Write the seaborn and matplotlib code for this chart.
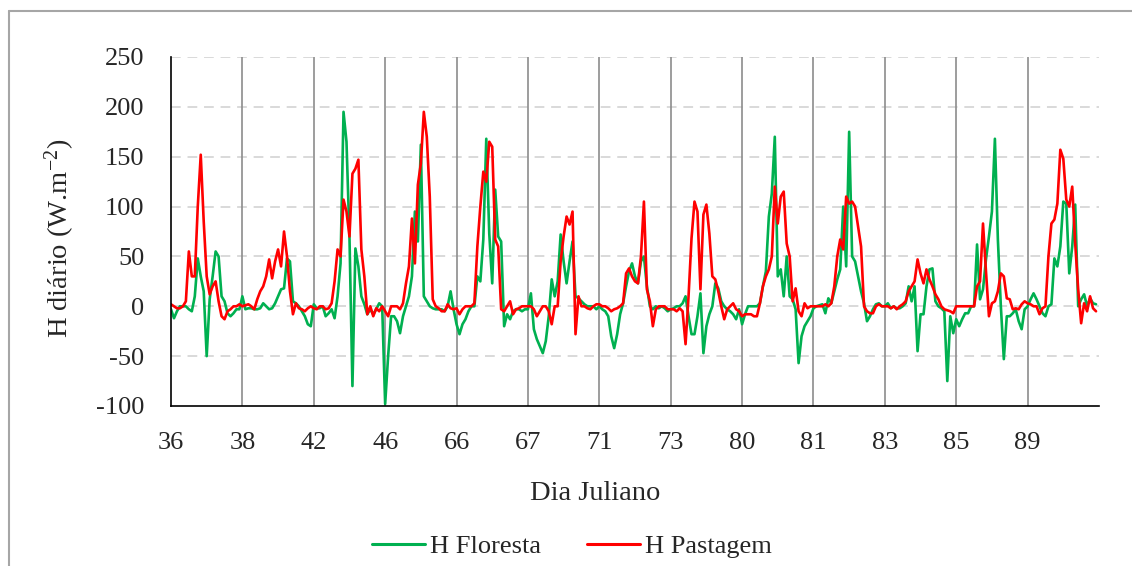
import pandas as pd
import matplotlib
matplotlib.use("Agg")
import matplotlib.pyplot as plt
from matplotlib.lines import Line2D
import seaborn as sns

# dias julianos (um rótulo por dia, 24 valores horários por dia)
dias = [36, 38, 42, 46, 66, 67, 71, 73, 80, 81, 83, 85, 89]

# H Floresta (W.m-2), valores horários
h_floresta = [
    -3, -12, -5, 0, 0, 0, -3, -5, 10, 48, 30, 15, -50, 7, 30, 55, 50, 10, 5, -7, -10, -7, -3, -3,       # 36
    10, -3, -2, -2, -3, -3, -2, 3, 0, -3, -2, 3, 10, 17, 18, 48, 45, 5, 3, 0, -5, -10, -18, -20,        # 38
    2, -2, -2, 0, -10, -7, -3, -12, 10, 43, 195, 165, 70, -80, 58, 40, 10, 2, -8, -3, -8, -3, 3, 0,     # 42
    -98, -50, -10, -10, -15, -27, -10, 0, 10, 30, 95, 65, 162, 10, 5, 0, -2, -3, -3, -3, -5, 0, 15, -3,  # 46
    -18, -28, -18, -13, -5, 0, 0, 30, 25, 67, 168, 73, 23, 117, 70, 65, -20, -8, -13, -5, -3, -3, -5, -3,  # 66
    -3, 13, -23, -33, -40, -47, -35, -10, 27, 10, 25, 72, 45, 23, 45, 65, 10, 8, 5, 2, 0, 0, 0, -3,     # 67
    0, -3, -5, -10, -30, -42, -28, -8, 3, 20, 35, 43, 30, 23, 45, 50, 20, 0, -3, 0, -2, 0, -2, -5,      # 71
    -3, -2, 0, 0, 3, 10, -10, -28, -28, -10, 13, -47, -20, -8, 0, 23, 18, 5, 0, -3, -5, -8, -13, -3,    # 73
    -18, -8, 0, 0, 0, 0, 3, 20, 35, 90, 113, 170, 30, 37, 10, 50, 10, 7, -3, -57, -30, -20, -15, -10,   # 80
    -2, 0, 1, 2, -7, 8, 3, 15, 27, 37, 100, 40, 175, 50, 45, 30, 15, 3, -15, -10, -3, 2, 3, 0,          # 81
    0, 3, -2, 0, -2, -2, 0, 3, 20, 5, 20, -45, -8, -8, 20, 37, 38, 5, 0, -2, -5, -75, -10, -27,         # 83
    -13, -20, -13, -7, -7, 0, 0, 62, 7, 17, 47, 70, 95, 168, 67, 0, -53, -10, -10, -7, -3, -15, -23, -3, # 85
    0, 7, 13, 7, 0, -7, -10, 0, 2, 48, 40, 60, 105, 103, 33, 60, 102, 0, 7, 12, 0, 8, 3, 2,             # 89
]

# H Pastagem (W.m-2)
h_pastagem = [
    2, 0, -2, -2, 0, 5, 55, 30, 30, 100, 152, 85, 30, 12, 20, 25, 5, -10, -13, -5, -3, 0, 0, 2,         # 36
    0, 1, 2, 0, -3, 7, 15, 20, 30, 47, 28, 45, 57, 40, 75, 50, 15, -8, 3, -2, -3, -5, -2, 0,            # 38
    -2, -3, 0, 0, -3, -2, 3, 25, 57, 50, 107, 95, 70, 133, 138, 147, 57, 30, -8, 0, -10, -2, -5, 0,     # 42
    -5, -10, 0, 0, 0, -3, 3, 23, 40, 88, 43, 122, 143, 195, 170, 110, 7, 0, -2, -5, -5, 2, -2, -3,      # 46
    -2, -8, -3, 0, 0, 0, 3, 60, 100, 135, 125, 165, 160, 67, 60, -3, -5, 0, 5, -8, -3, -2, 0, 0,        # 66
    0, 0, -3, -10, -5, 0, 0, -5, -18, 0, 0, 45, 70, 90, 82, 95, -28, 10, 0, 0, -2, -3, 0, 2,            # 67
    2, 0, 0, -2, -5, -3, -2, 0, 3, 33, 38, 30, 25, 23, 50, 105, 17, 5, -20, -3, 0, 0, 0, -3,            # 71
    -3, -3, -5, -2, -5, -38, 10, 68, 105, 95, 17, 92, 102, 73, 30, 27, 15, 0, -13, -3, 0, 3, -3, -5,    # 73
    -10, -8, -8, -8, -10, -10, 3, 20, 30, 37, 50, 120, 83, 110, 115, 63, 50, 5, 18, -5, -10, 3, -2, 0,  # 80
    0, 0, 0, 0, 2, 0, 3, 20, 50, 67, 57, 110, 103, 105, 100, 80, 60, 0, -5, -7, -7, 0, 2, 0,            # 81
    0, 0, -2, 0, -3, 0, 2, 5, 15, 20, 25, 47, 33, 23, 37, 27, 20, 12, 7, 0, -3, -4, -5, -7,             # 83
    0, 0, 0, 0, 0, 0, 0, 20, 25, 83, 35, -10, 3, 5, 15, 33, 30, 8, 7, -3, -2, -3, 2, 5,                 # 85
    3, 2, 0, 0, -8, -2, 0, 50, 83, 87, 103, 157, 148, 107, 100, 120, 63, 17, -17, 3, -5, 10, -2, -5,    # 89
]

n = len(h_floresta)
df = pd.DataFrame({"hora": range(n), "H Floresta": h_floresta, "H Pastagem": h_pastagem})
long_df = df.melt(id_vars="hora", var_name="serie", value_name="H")

sns.set_style("white")
plt.rcParams["font.family"] = ["Liberation Serif", "DejaVu Serif"]
plt.rcParams["mathtext.fontset"] = "custom"
plt.rcParams["mathtext.rm"] = "Liberation Serif"
plt.rcParams["mathtext.it"] = "Liberation Serif:italic"
plt.rcParams["axes.unicode_minus"] = False

fig = plt.figure(figsize=(11.32, 5.66), dpi=100)
ax = fig.add_axes([171 / 1132, 1 - 406 / 566, (1099 - 171) / 1132, (406 - 57) / 566])

cores = {"H Floresta": "#00B050", "H Pastagem": "#FF0000"}
sns.lineplot(data=long_df, x="hora", y="H", hue="serie", palette=cores,
             linewidth=1.9, ax=ax, legend=False)

# grades
for v in range(-50, 251, 50):
    ax.axhline(v, color="#D9D9D9", linewidth=1.4, linestyle=(0, (5, 3.5)), zorder=0)
for k in range(1, len(dias)):
    ax.axvline(k * 24, color="#8C8C8C", linewidth=1.2, zorder=0)

ax.set_xlim(0, n)
ax.set_ylim(-100, 250)
ax.set_yticks(range(-100, 251, 50))
ax.set_xticks([k * 24 for k in range(len(dias))])
ax.set_xticklabels([str(d) for d in dias])
ax.tick_params(axis="both", labelsize=19, length=6, width=1.2, color="black", direction="out")
ax.tick_params(axis="x", pad=13)
ax.tick_params(axis="y", pad=13)

for s in ["top", "right"]:
    ax.spines[s].set_visible(False)
for s in ["left", "bottom"]:
    ax.spines[s].set_color("black")
    ax.spines[s].set_linewidth(1.2)

ax.set_xlabel("Dia Juliano", fontsize=20.5)
ax.xaxis.set_label_coords((595 - 171) / 928, -0.215)
ax.set_ylabel(r"H diário (W.m$^{\mathrm{-2}}$)", fontsize=20.5)
ax.yaxis.set_label_coords((77 - 171) / 928, 0.48)

handles = [Line2D([], [], color=cores[k], linewidth=2.2) for k in cores]
fig.legend(handles, list(cores.keys()), loc="center", bbox_to_anchor=(572 / 1132, 1 - 546 / 566),
           ncol=2, frameon=False, fontsize=19, handlelength=2.0, handletextpad=0.2, columnspacing=1.75)

# moldura externa
borda = "#A6A6A6"
fig.add_artist(Line2D([9 / 1132, 1.0], [1 - 11 / 566, 1 - 11 / 566], color=borda, linewidth=1.5,
                      transform=fig.transFigure))
fig.add_artist(Line2D([9 / 1132, 9 / 1132], [1 - 11 / 566, 0.0], color=borda, linewidth=1.5,
                      transform=fig.transFigure))

fig.savefig("out.png", dpi=100, facecolor="white")
